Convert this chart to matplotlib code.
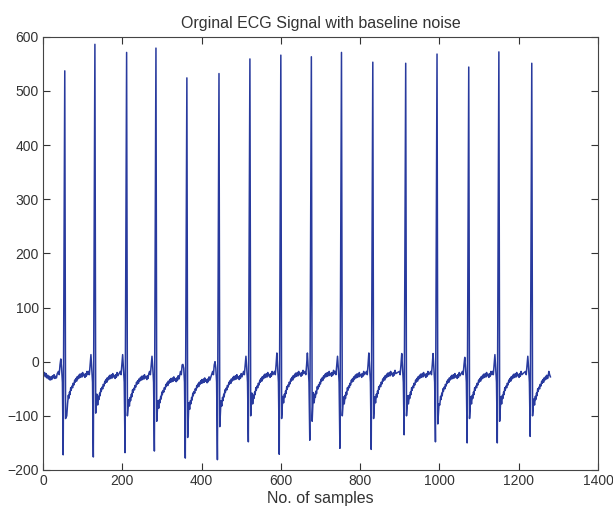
import numpy as np
import matplotlib
matplotlib.use("Agg")
import matplotlib.pyplot as plt

# ---- values ----
# R-peak sample positions and heights
r_pos = [55, 131, 211, 285, 363, 444, 522, 600, 677, 753, 832, 915, 994, 1074, 1150, 1233]
r_val = [537, 586, 571, 579, 524, 532, 559, 566, 563, 571, 553, 551, 568, 544, 572, 551]
# deep negative spike just before each R peak
q_val = [-172, -176, -168, -165, -178, -181, -148, -171, -145, -160, -162, -135, -148, -150, -150, -138]
# value right after each R peak and the post-beat dip
s_val = [-105, -95, -100, -110, -140, -120, -100, -105, -110, -100, -105, -100, -115, -105, -110, -100]
dip_val = [-100, -60, -70, -72, -76, -72, -58, -64, -57, -65, -65, -63, -78, -65, -65, -69]
# small bump a few samples before each R peak
bump_val = [5, 13, 13, 10, -5, 0, 10, 16, 16, 10, 16, 15, 15, 8, 13, 10]
# baseline shift of the plateau following each beat
base_shift = [2, 0, -2, -6, -8, -2, 2, 4, 4, 2, 4, 2, 0, 2, 2, 0]

# typical baseline shape after an R peak (offset in samples, value)
post_off = [7, 9, 10, 12, 13, 15, 16, 18, 20, 21, 23, 25, 26, 28, 30, 31, 33, 35, 37,
            38, 40, 42, 44, 45, 47, 49, 51, 52, 54, 56, 58]
post_val = [-80, -64, -70, -58, -63, -50, -55, -47, -50, -42, -45, -36, -40, -33, -38,
            -30, -34, -27, -32, -25, -31, -24, -30, -22, -28, -26, -31, -24, -29, -20, -26]
# typical shape just before an R peak (offset in samples, value)
pre_off = [-16, -14, -12, -8, -6]
pre_val = [-18, -24, -6, -12, -38]

# start and end of the record
start_x = [0, 2, 4, 6, 8, 10, 12, 14, 16, 18, 20, 22, 24, 26, 28, 30, 32, 34, 36]
start_y = [-15, -25, -20, -28, -22, -30, -25, -32, -27, -34, -28, -33, -26, -30, -24, -31, -27, -30, -22]
end_x = [1276, 1278, 1280]
end_y = [-18, -24, -28]

xs, ys = list(start_x), list(start_y)
n = len(r_pos)
for i in range(n):
    r = r_pos[i]
    for o, v in zip(pre_off[:3], pre_val[:3]):
        xs.append(r + o); ys.append(v)
    xs.append(r - 10); ys.append(bump_val[i])
    for o, v in zip(pre_off[3:], pre_val[3:]):
        xs.append(r + o); ys.append(v)
    xs.append(r - 4); ys.append(q_val[i])
    xs.append(r); ys.append(r_val[i])
    xs.append(r + 2); ys.append(s_val[i])
    xs.append(r + 5); ys.append(dip_val[i])
    last = (i == n - 1)
    for o, v in zip(post_off, post_val):
        if last and r + o >= end_x[0]:
            break
        if not last and r + o >= r_pos[i + 1] - 16:
            break
        xs.append(r + o); ys.append(v + base_shift[i])
xs += end_x
ys += end_y

plt.rcParams['font.family'] = ['Liberation Sans', 'DejaVu Sans']
fig = plt.figure(figsize=(6.13, 5.15), dpi=100)
ax = fig.add_axes([0.0701, 0.0874, 0.9054, 0.8413])
ax.plot(xs, ys, color='#283a9e', lw=1.1)

ax.set_xlim(0, 1400)
ax.set_ylim(-200, 600)
ax.set_xticks(range(0, 1401, 200))
ax.set_yticks(range(-200, 601, 100))
ax.tick_params(direction='in', top=True, right=True, length=5, width=0.8,
               labelsize=10, colors='#333333', pad=3)
for s in ax.spines.values():
    s.set_color('#444444')
    s.set_linewidth(0.8)
ax.set_title('Orginal ECG Signal with baseline noise', fontsize=11.5, color='#333333', pad=6)
ax.set_xlabel('No. of samples', fontsize=11.5, color='#333333', labelpad=2)

fig.savefig('out.png', dpi=100)
